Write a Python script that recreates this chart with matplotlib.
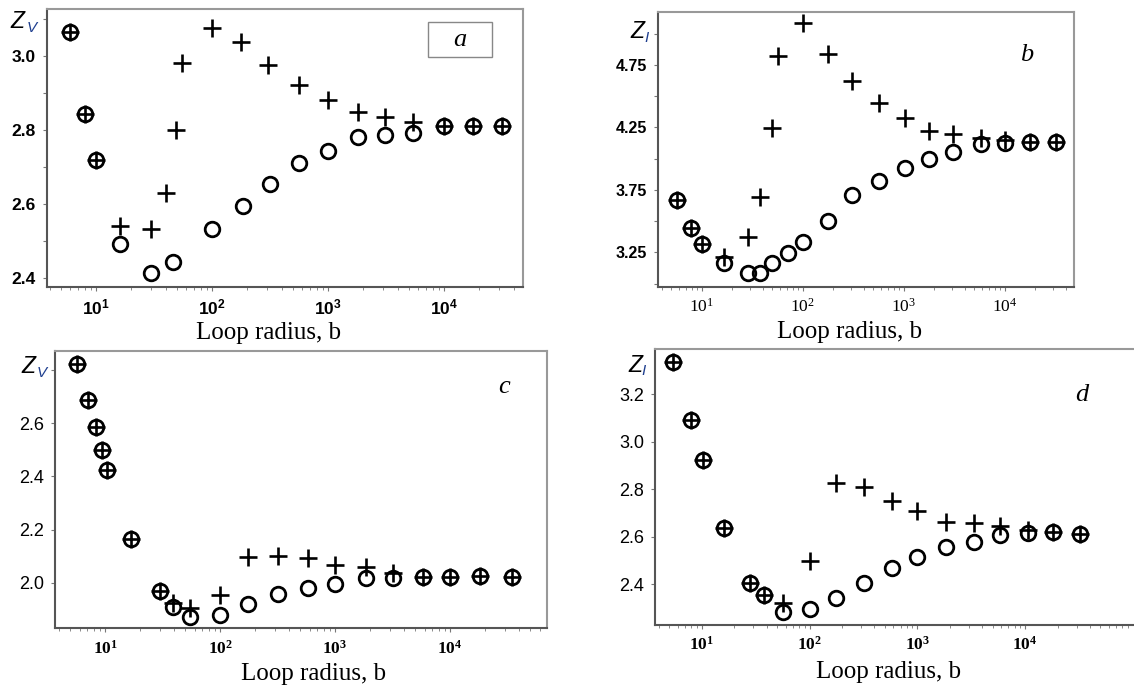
import matplotlib
matplotlib.use('Agg')
import matplotlib.pyplot as plt
from matplotlib.patches import Rectangle
from matplotlib.ticker import FixedLocator, LogLocator, NullFormatter

plt.rcParams['mathtext.fontset'] = 'custom'
plt.rcParams['mathtext.rm'] = 'Liberation Serif'
plt.rcParams['mathtext.bf'] = 'Liberation Serif:bold'
plt.rcParams['mathtext.sf'] = 'Liberation Sans:bold'

W, H = 1134, 687

# Panel a : Z_V
a_plus_x = [6, 8, 10, 16, 30, 40, 49, 55, 100, 177, 306, 562, 1000, 1800, 3100, 5430, 10000, 17600, 31600]
a_plus_y = [3.063, 2.844, 2.718, 2.542, 2.534, 2.629, 2.80, 2.981, 3.076, 3.038, 2.975, 2.921,
            2.881, 2.849, 2.836, 2.822, 2.811, 2.811, 2.811]
a_circ_x = [6, 8, 10, 16, 30, 46, 100, 186, 316, 562, 1000, 1800, 3100, 5430, 10000, 17600, 31600]
a_circ_y = [3.063, 2.844, 2.718, 2.493, 2.416, 2.445, 2.532, 2.594, 2.654, 2.710, 2.744, 2.781,
            2.787, 2.793, 2.811, 2.811, 2.811]

# Panel b : Z_I
b_plus_x = [5.7, 7.8, 10, 16.6, 29, 38, 50, 57, 100, 177, 305, 574, 1030, 1795, 3100, 5780, 10000, 17800, 32000]
b_plus_y = [3.669, 3.442, 3.314, 3.21, 3.375, 3.69, 4.248, 4.822, 5.084, 4.838, 4.625, 4.448,
            4.323, 4.222, 4.198, 4.163, 4.15, 4.136, 4.136]
b_circ_x = [5.7, 7.8, 10, 16.6, 29, 38, 50, 72, 100, 177, 305, 574, 1030, 1795, 3100, 5780, 10000, 17800, 32000]
b_circ_y = [3.669, 3.442, 3.314, 3.167, 3.087, 3.087, 3.162, 3.247, 3.335, 3.504, 3.709, 3.824,
            3.923, 3.995, 4.056, 4.117, 4.128, 4.136, 4.136]

# Panel c : Z_V
c_x = [5.7, 7.1, 8.4, 9.4, 10.5, 16.7, 30, 39, 55, 100, 176, 321, 586, 1000, 1860, 3170, 5780, 10000, 18200, 34400]
c_plus_y = [2.823, 2.688, 2.587, 2.50, 2.424, 2.164, 1.970, 1.925, 1.905, 1.954, 2.098, 2.100,
            2.092, 2.067, 2.058, 2.035, 2.02, 2.02, 2.025, 2.02]
c_circ_y = [2.823, 2.688, 2.587, 2.50, 2.424, 2.164, 1.970, 1.910, 1.872, 1.878, 1.920, 1.957,
            1.979, 1.995, 2.016, 2.016, 2.02, 2.02, 2.025, 2.02]

# Panel d : Z_I
d_x = [5.4, 7.9, 10.2, 16.2, 28, 38, 56, 100, 175, 322, 580, 1000, 1860, 3370, 5850, 10600, 18100, 32600]
d_plus_y = [3.3375, 3.092, 2.923, 2.639, 2.407, 2.355, 2.32, 2.50, 2.828, 2.811, 2.752, 2.71,
            2.664, 2.66, 2.646, 2.63, 2.619, 2.61]
d_circ_y = [3.3375, 3.092, 2.923, 2.639, 2.407, 2.355, 2.285, 2.295, 2.344, 2.407, 2.467, 2.516,
            2.559, 2.58, 2.608, 2.615, 2.619, 2.61]

decades = [10, 100, 1000, 10000]


def fig_rect(left, top, right, bottom):
    """
    Converts pixel box into figure fraction rectangle.
    """
    return [left / W, 1 - bottom / H, (right - left) / W, (bottom - top) / H]


def draw_panel(ax, px, py, cx, cy, xlim, ylim, yticks, ylabels, yfont, xfmt, label_x, label_y):
    """
    Draws one panel with cross and circle markers.
    """
    ax.plot(cx, cy, ls='none', marker='o', ms=10.5, mfc='none', mec='k', mew=2.0)
    ax.plot(px, py, ls='none', marker='+', ms=13, mec='k', mew=1.9)

    ax.set_xscale('log')
    ax.set_xlim(xlim)
    ax.set_ylim(ylim)

    # x ticks
    ax.xaxis.set_major_locator(FixedLocator(decades))
    ax.set_xticklabels([xfmt % i for i in range(1, 5)], fontsize=12.5)
    ax.xaxis.set_minor_locator(LogLocator(base=10, subs=range(2, 10)))
    ax.xaxis.set_minor_formatter(NullFormatter())

    # y ticks
    ax.yaxis.set_major_locator(FixedLocator(yticks))
    ax.set_yticklabels(ylabels, **yfont)
    ax.yaxis.set_minor_locator(FixedLocator([]))

    ax.tick_params(axis='both', which='both', direction='out', color='#777777')
    ax.tick_params(axis='x', which='major', length=3, pad=5)
    ax.tick_params(axis='x', which='minor', length=2)
    ax.tick_params(axis='y', which='major', length=3, pad=5)

    for side in ['left', 'bottom']:
        ax.spines[side].set_color('#555555')
        ax.spines[side].set_linewidth(1.5)
    for side in ['top', 'right']:
        ax.spines[side].set_color('#999999')
        ax.spines[side].set_linewidth(1.5)

    ax.set_xlabel('Loop radius, b', family='Liberation Serif', fontsize=18)
    ax.xaxis.set_label_coords(label_x, label_y)

    return


fig = plt.figure(figsize=(W / 100, H / 100), dpi=100)

bold_sans = dict(family='Liberation Sans', fontweight='bold', fontsize=12.5)
plain_sans = dict(family='Liberation Sans', fontsize=13)
letter_font = dict(family='Liberation Serif', style='italic', fontsize=19, ha='center', va='center')

# Panel a
ax = fig.add_axes(fig_rect(47, 9, 522.7, 287))
draw_panel(ax, a_plus_x, a_plus_y, a_circ_x, a_circ_y, (3.78, 47600), (2.377, 3.126),
           [2.4, 2.5, 2.6, 2.7, 2.8, 2.9, 3.0, 3.1], ['2.4', '', '2.6', '', '2.8', '', '3.0', ''],
           bold_sans, r'$\mathsf{10^{%d}}$', 0.465, -0.125)
fig.add_artist(Rectangle((428 / W, 1 - 57.3 / H), 64 / W, 35 / H, transform=fig.transFigure,
                         fc='white', ec='#888888', lw=1.0))
fig.text(460 / W, 1 - 40 / H, 'a', **letter_font)

# Panel b
ax = fig.add_axes(fig_rect(658.3, 11.7, 1074, 286.7))
draw_panel(ax, b_plus_x, b_plus_y, b_circ_x, b_circ_y, (3.71, 48500), (2.975, 5.177),
           [3.0, 3.25, 3.5, 3.75, 4.0, 4.25, 4.5, 4.75, 5.0],
           ['', '3.25', '', '3.75', '', '4.25', '', '4.75', ''],
           dict(family='Liberation Sans', fontweight='bold', fontsize=11.5),
           r'$\mathrm{10^{%d}}$', 0.46, -0.125)
fig.text(1027 / W, 1 - 55 / H, 'b', **letter_font)

# Panel c
ax = fig.add_axes(fig_rect(55, 350.7, 546.7, 628.3))
draw_panel(ax, c_x, c_plus_y, c_x, c_circ_y, (3.67, 69300), (1.828, 2.874),
           [2.0, 2.2, 2.4, 2.6, 2.8], ['2.0', '2.2', '2.4', '2.6', ''],
           plain_sans, r'$\mathbf{10^{%d}}$', 0.525, -0.125)
fig.text(504 / W, 1 - 387 / H, 'c', **letter_font)

# Panel d
ax = fig.add_axes(fig_rect(655, 349.3, 1136, 625))
draw_panel(ax, d_x, d_plus_y, d_x, d_circ_y, (3.67, 107000), (2.229, 3.389),
           [2.4, 2.6, 2.8, 3.0, 3.2], ['2.4', '2.6', '2.8', '3.0', '3.2'],
           plain_sans, r'$\mathbf{10^{%d}}$', 0.485, -0.13)
fig.text(1082 / W, 1 - 395 / H, 'd', **letter_font)

# Axis symbols Z_V / Z_I (Z centre, subscript offset)
for (x, y, sub, dx) in [(17, 22, 'V', 15), (637, 32, 'I', 10), (28, 367, 'V', 14), (635, 365, 'I', 9)]:
    fig.text(x / W, 1 - y / H, 'Z', family='Liberation Sans', style='italic', fontsize=16.5,
             ha='center', va='center')
    fig.text((x + dx) / W, 1 - (y + 6) / H, sub, family='Liberation Sans', style='italic',
             fontsize=11, color='#1f3f8f', ha='center', va='center', zorder=5)

plt.savefig('out.png', dpi=100)
